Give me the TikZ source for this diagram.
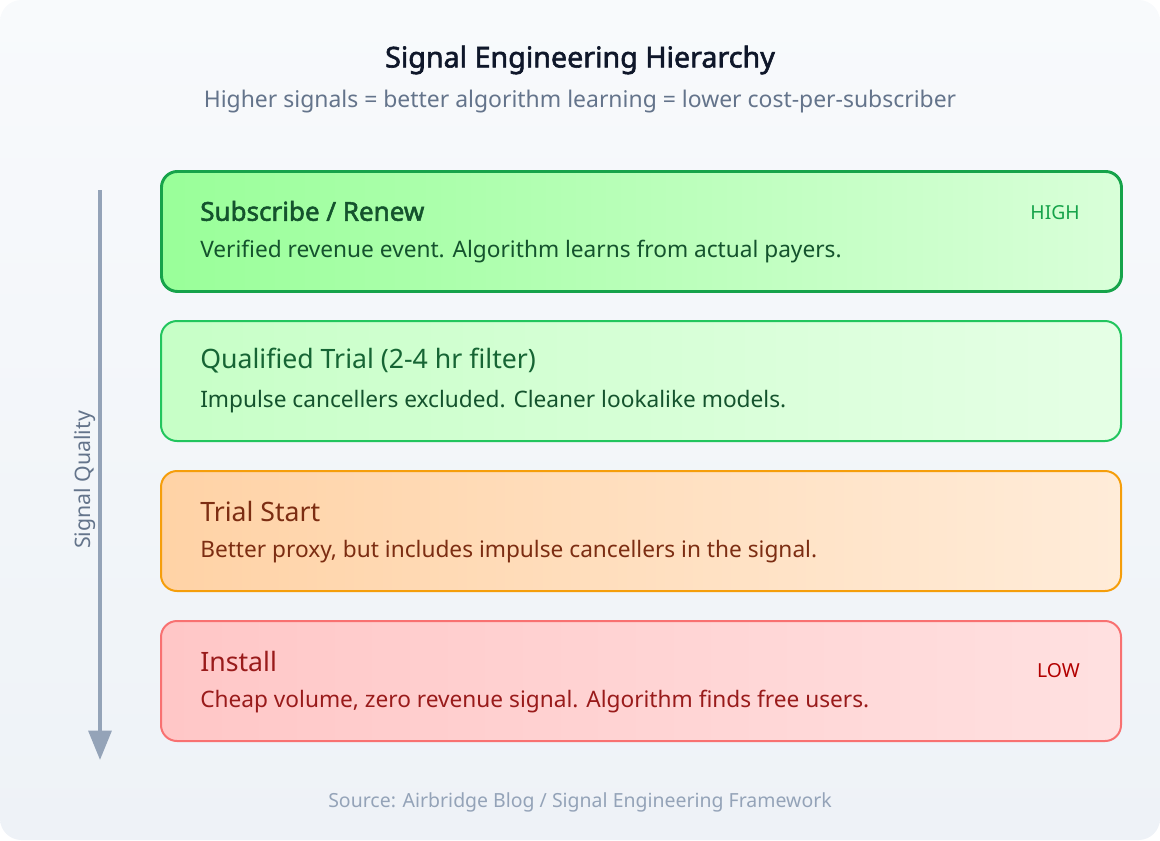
\documentclass[tikz,border=0pt]{standalone}
\usepackage{fontspec}
\setmainfont{Noto Sans}[AutoFakeBold=2]
\usetikzlibrary{arrows.meta}

\definecolor{bgtop}{HTML}{F8FAFC}
\definecolor{bgbot}{HTML}{EEF2F7}
\definecolor{titlecol}{HTML}{0F172A}
\definecolor{subcol}{HTML}{64748B}
\definecolor{axiscol}{HTML}{94A3B8}
\definecolor{hiline}{HTML}{16A34A}
\definecolor{hitxt}{HTML}{14532D}
\definecolor{qline}{HTML}{22C55E}
\definecolor{qtxt}{HTML}{166534}
\definecolor{tline}{HTML}{F59E0B}
\definecolor{ttxt}{HTML}{7C2D12}
\definecolor{iline}{HTML}{F87171}
\definecolor{itxt}{HTML}{991B1B}

\tikzset{
  tier/.style={rounded corners=12, minimum width=720pt, minimum height=90pt,
    anchor=north west, inner sep=0pt},
  tiername/.style={anchor=west, inner sep=0pt, font=\fontsize{20}{24}\selectfont},
  tierdesc/.style={anchor=west, inner sep=0pt, font=\fontsize{17}{20}\selectfont},
  tiertag/.style={anchor=east, inner sep=0pt, font=\fontsize{14.5}{17}\selectfont},
}

\begin{document}
\begin{tikzpicture}[x=0.75pt,y=-0.75pt]

% 背景
\useasboundingbox (0,0) rectangle (1160,840);
\shade[top color=bgtop, bottom color=bgbot, rounded corners=16] (0,0) rectangle (1160,840);

% 标题
\node[font=\bfseries\fontsize{21.5}{26}\selectfont, text=titlecol] (title) at (580,60) {Signal Engineering Hierarchy};
\node[font=\fontsize{17.2}{20}\selectfont, text=subcol] (subtitle) at (580,102) {Higher signals = better algorithm learning = lower cost-per-subscriber};

% 各层
\node[tier, draw=hiline, line width=2.2pt, left color=green!40!white, right color=green!15!white] (subscribe) at (160,170) {};
\node[tier, draw=qline, line width=1.5pt, left color=green!22!white, right color=green!10!white] (qualified) at (160,320) {};
\node[tier, draw=tline, line width=1.5pt, left color=orange!35!white, right color=orange!15!white] (trial) at (160,470) {};
\node[tier, draw=iline, line width=1.5pt, left color=red!22!white, right color=red!12!white] (install) at (160,620) {};

\node[tiername, text=hitxt, font=\bfseries\fontsize{19.5}{24}\selectfont] at (200,211) {Subscribe / Renew};
\node[tierdesc, text=hitxt] at (200,252) {Verified revenue event. Algorithm learns from actual payers.};
\node[tiertag, text=hiline] at (1080,213) {HIGH};

\node[tiername, text=qtxt] at (200,361) {Qualified Trial (2-4 hr filter)};
\node[tierdesc, text=hitxt] at (200,402) {Impulse cancellers excluded. Cleaner lookalike models.};

\node[tiername, text=ttxt] at (200,511) {Trial Start};
\node[tierdesc, text=ttxt] at (200,552) {Better proxy, but includes impulse cancellers in the signal.};

\node[tiername, text=itxt] at (200,661) {Install};
\node[tierdesc, text=itxt] at (200,702) {Cheap volume, zero revenue signal. Algorithm finds free users.};
\node[tiertag, text=red!70!black] at (1080,671) {LOW};

% 质量轴
\coordinate (axtop) at (100,190);
\coordinate (axbot) at (100,760);
\draw[axiscol, line width=3pt, -{Triangle[length=22pt,width=17pt]}] (axtop) -- (axbot);
\node[rotate=90, text=subcol, font=\fontsize{16}{19}\selectfont] (axlabel) at (85,480) {Signal Quality};

% 来源
\node[text=axiscol, font=\fontsize{14.6}{17}\selectfont] (source) at (580,802) {Source: Airbridge Blog / Signal Engineering Framework};

\end{tikzpicture}
\end{document}
